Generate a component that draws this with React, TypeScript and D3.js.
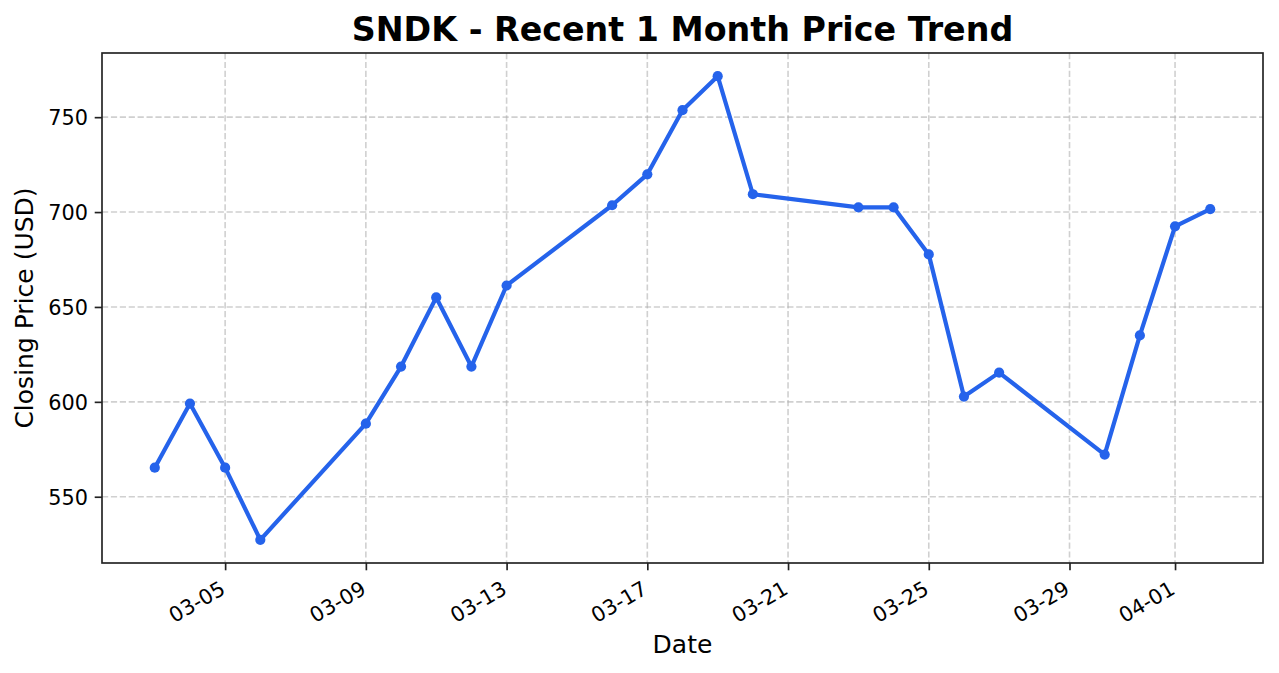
import { useEffect, useRef } from 'react';
import * as d3 from 'd3';

const DATES = [
  '2026-03-03', '2026-03-04', '2026-03-05', '2026-03-06', '2026-03-09', '2026-03-10',
  '2026-03-11', '2026-03-12', '2026-03-13', '2026-03-16', '2026-03-17', '2026-03-18',
  '2026-03-19', '2026-03-20', '2026-03-23', '2026-03-24', '2026-03-25', '2026-03-26',
  '2026-03-27', '2026-03-30', '2026-03-31', '2026-04-01', '2026-04-02',
];
const CLOSES = [
  565.3, 599.1, 565.3, 527.3, 588.5, 618.6, 655.0, 618.6, 661.3, 703.6, 719.9, 753.7,
  771.6, 709.4, 702.5, 702.5, 677.7, 602.8, 615.4, 572.2, 635.0, 692.5, 701.5,
];
const X_TICKS = ['2026-03-05', '2026-03-09', '2026-03-13', '2026-03-17', '2026-03-21', '2026-03-25', '2026-03-29', '2026-04-01'];
const Y_TICKS = [550, 600, 650, 700, 750];

const W = 1279, H = 673;
const margin = { top: 53, right: 16, bottom: 110, left: 102 };
const FONT = 'DejaVu Sans, sans-serif';
const LINE = '#2563eb';
const TICK_FS = 20.8, LABEL_FS = 25, TITLE_FS = 33.3;
const TICK_LEN = 7.3;

export default function App() {
  const svgRef = useRef<SVGSVGElement>(null);

  useEffect(() => {
    document.body.style.margin = '0';
    const parse = d3.utcParse('%Y-%m-%d');
    const pts = DATES.map((d, i) => ({ date: parse(d)!, v: CLOSES[i] }));
    const svg = d3.select(svgRef.current!);
    svg.selectAll('*').remove();

    const iw = W - margin.left - margin.right;
    const ih = H - margin.top - margin.bottom;

    // matplotlib-style 5% padding on both axes
    const [t0, t1] = d3.extent(pts, (d) => +d.date) as [number, number];
    const tpad = (t1 - t0) * 0.05;
    const x = d3.scaleUtc().domain([new Date(t0 - tpad), new Date(t1 + tpad)]).range([0, iw]);
    const [v0, v1] = d3.extent(pts, (d) => d.v) as [number, number];
    const vpad = (v1 - v0) * 0.05;
    const y = d3.scaleLinear().domain([v0 - vpad, v1 + vpad]).range([ih, 0]);

    const g = svg.append('g').attr('transform', `translate(${margin.left},${margin.top})`);
    const xt = X_TICKS.map((d) => parse(d)!);

    // grid
    const grid = g.append('g').attr('stroke', '#b0b0b0').attr('stroke-opacity', 0.6)
      .attr('stroke-dasharray', '6.2,2.7').attr('stroke-width', 1.6);
    grid.selectAll('.gx').data(xt).join('line').attr('class', 'gx')
      .attr('x1', (d) => x(d)).attr('x2', (d) => x(d)).attr('y1', 0).attr('y2', ih);
    grid.selectAll('.gy').data(Y_TICKS).join('line').attr('class', 'gy')
      .attr('y1', (d) => y(d)).attr('y2', (d) => y(d)).attr('x1', 0).attr('x2', iw);

    // line + markers
    const line = d3.line<{ date: Date; v: number }>().x((d) => x(d.date)).y((d) => y(d.v));
    g.append('path').datum(pts).attr('d', line).attr('fill', 'none')
      .attr('stroke', LINE).attr('stroke-width', 4.2).attr('stroke-linejoin', 'round');
    g.append('g').selectAll('circle').data(pts).join('circle')
      .attr('cx', (d) => x(d.date)).attr('cy', (d) => y(d.v)).attr('r', 5.1).attr('fill', LINE);

    // axes
    const xAxis = g.append('g').attr('transform', `translate(0,${ih})`)
      .call(d3.axisBottom(x).tickValues(xt).tickFormat((d) => d3.utcFormat('%m-%d')(d as Date)).tickSize(TICK_LEN).tickSizeOuter(0));
    xAxis.select('.domain').remove();
    xAxis.selectAll('line').attr('stroke', '#222').attr('stroke-width', 1.67);
    xAxis.selectAll('text')
      .attr('font-family', FONT).attr('font-size', TICK_FS).attr('fill', '#000')
      .attr('text-anchor', 'end').attr('dy', 0).attr('y', 0)
      .attr('transform', 'translate(1,30) rotate(-30)');

    const yAxis = g.append('g')
      .call(d3.axisLeft(y).tickValues(Y_TICKS).tickSize(TICK_LEN).tickSizeOuter(0));
    yAxis.select('.domain').remove();
    yAxis.selectAll('line').attr('stroke', '#222').attr('stroke-width', 1.67);
    yAxis.selectAll('text').attr('font-family', FONT).attr('font-size', TICK_FS).attr('fill', '#000')
      .attr('x', -TICK_LEN * 2 + 0.5).attr('dy', '0.36em');

    g.append('rect').attr('width', iw).attr('height', ih).attr('fill', 'none')
      .attr('stroke', '#222').attr('stroke-width', 1.67);

    svg.append('text').attr('x', margin.left + iw / 2).attr('y', 41).attr('text-anchor', 'middle')
      .attr('font-family', FONT).attr('font-weight', 'bold').attr('font-size', TITLE_FS).text('SNDK - Recent 1 Month Price Trend');
    svg.append('text').attr('x', margin.left + iw / 2).attr('y', 653).attr('text-anchor', 'middle')
      .attr('font-family', FONT).attr('font-size', LABEL_FS).text('Date');
    svg.append('text').attr('transform', `translate(33,${margin.top + ih / 2}) rotate(-90)`).attr('text-anchor', 'middle')
      .attr('font-family', FONT).attr('font-size', LABEL_FS).text('Closing Price (USD)');
  }, []);

  return <svg ref={svgRef} width={W} height={H} style={{ display: 'block', background: '#fff' }} />;
}
